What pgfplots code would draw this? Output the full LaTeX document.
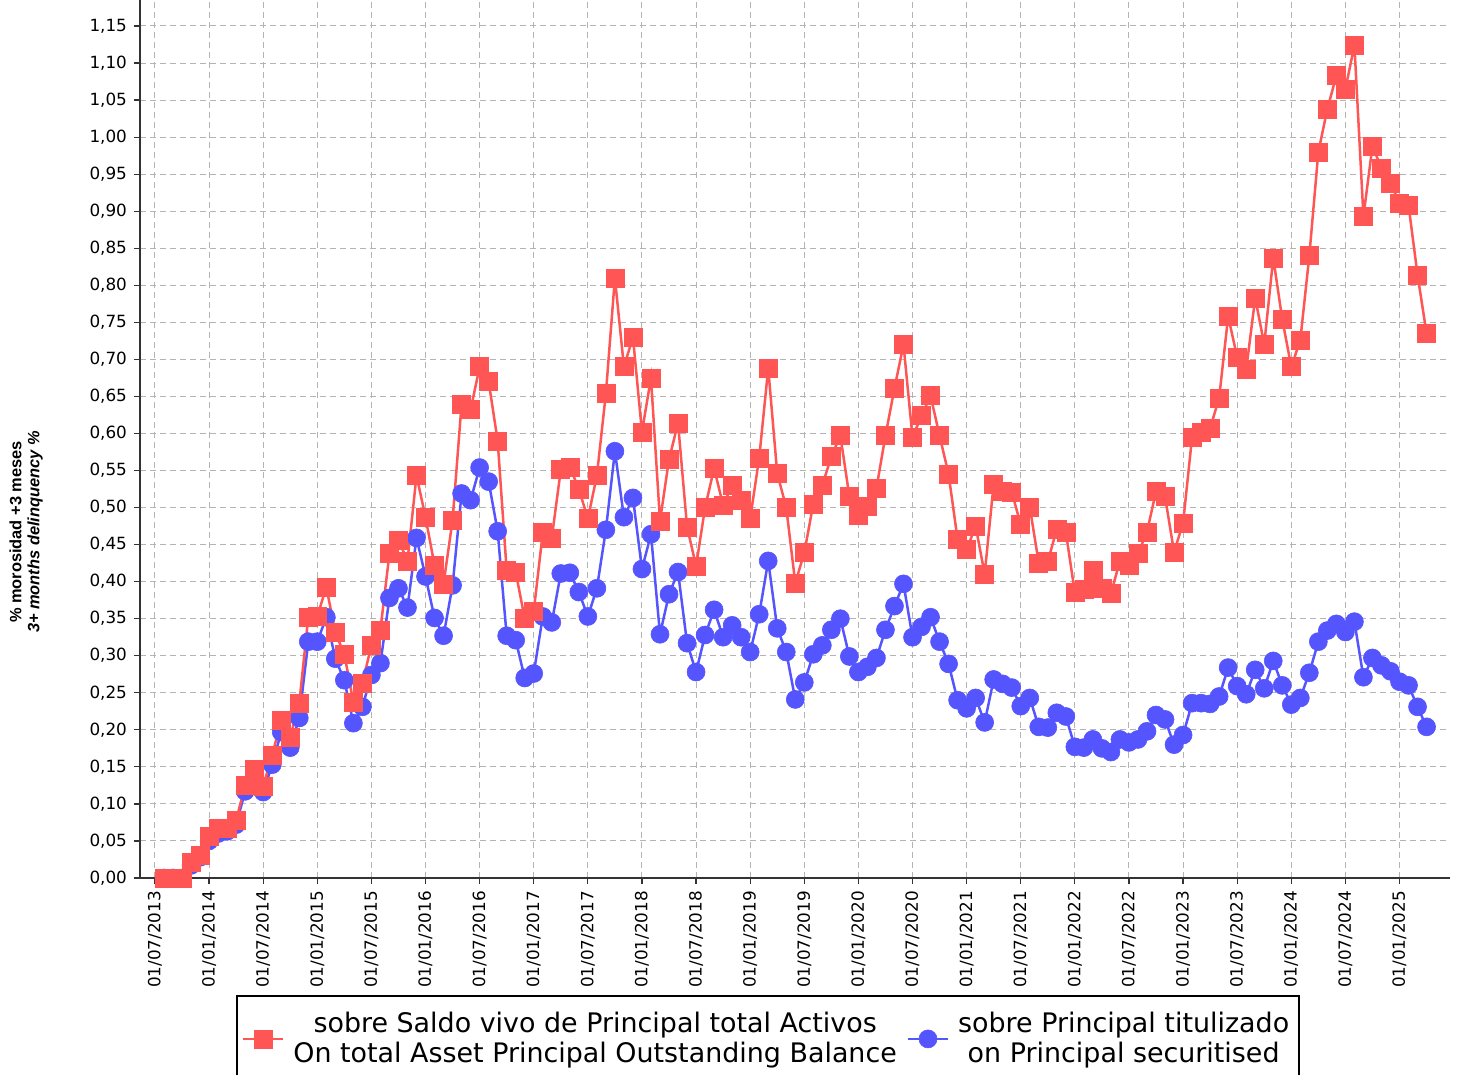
\documentclass[border=0pt]{standalone}
\usepackage{fontspec}
\setmainfont{DejaVu Sans}
\newfontfamily\arialfont{Liberation Sans}
\usepackage{pgfplots}
\usepackage{pgfplotstable}
\pgfplotsset{compat=1.18}
\definecolor{myred}{RGB}{255,85,85}
\definecolor{myblue}{RGB}{85,85,255}
\definecolor{gridgray}{RGB}{180,180,180}

\pgfplotstableread{
x r b
1 0 0
2 0 0
3 0 0
4 0.021 0.017
5 0.031 0.028
6 0.056 0.05
7 0.067 0.06
8 0.067 0.063
9 0.078 0.072
10 0.125 0.117
11 0.147 0.135
12 0.124 0.116
13 0.166 0.153
14 0.213 0.197
15 0.19 0.176
16 0.236 0.216
17 0.352 0.319
18 0.353 0.319
19 0.393 0.352
20 0.331 0.296
21 0.302 0.267
22 0.237 0.209
23 0.263 0.231
24 0.314 0.274
25 0.335 0.29
26 0.438 0.378
27 0.456 0.391
28 0.428 0.365
29 0.543 0.459
30 0.487 0.407
31 0.422 0.351
32 0.397 0.327
33 0.483 0.395
34 0.64 0.519
35 0.632 0.51
36 0.69 0.554
37 0.67 0.535
38 0.59 0.468
39 0.415 0.327
40 0.413 0.321
41 0.35 0.27
42 0.36 0.276
43 0.466 0.353
44 0.459 0.345
45 0.551 0.411
46 0.555 0.412
47 0.525 0.386
48 0.485 0.353
49 0.543 0.391
50 0.654 0.47
51 0.81 0.576
52 0.69 0.487
53 0.73 0.513
54 0.602 0.417
55 0.675 0.464
56 0.482 0.329
57 0.565 0.383
58 0.614 0.413
59 0.474 0.317
60 0.421 0.278
61 0.5 0.328
62 0.553 0.362
63 0.503 0.325
64 0.53 0.341
65 0.51 0.325
66 0.485 0.305
67 0.567 0.356
68 0.688 0.428
69 0.546 0.337
70 0.5 0.305
71 0.398 0.241
72 0.439 0.264
73 0.505 0.302
74 0.53 0.314
75 0.569 0.335
76 0.597 0.35
77 0.515 0.299
78 0.49 0.278
79 0.502 0.285
80 0.526 0.297
81 0.597 0.335
82 0.661 0.367
83 0.72 0.397
84 0.595 0.325
85 0.624 0.339
86 0.651 0.352
87 0.597 0.319
88 0.545 0.289
89 0.457 0.24
90 0.443 0.229
91 0.475 0.243
92 0.41 0.21
93 0.532 0.268
94 0.522 0.262
95 0.521 0.257
96 0.477 0.232
97 0.501 0.243
98 0.425 0.204
99 0.427 0.203
100 0.471 0.223
101 0.467 0.218
102 0.385 0.177
103 0.389 0.176
104 0.415 0.187
105 0.391 0.175
106 0.384 0.17
107 0.428 0.187
108 0.422 0.183
109 0.438 0.187
110 0.467 0.198
111 0.522 0.22
112 0.515 0.214
113 0.44 0.18
114 0.479 0.193
115 0.595 0.236
116 0.602 0.236
117 0.607 0.235
118 0.648 0.245
119 0.758 0.284
120 0.703 0.259
121 0.686 0.248
122 0.783 0.281
123 0.72 0.256
124 0.837 0.293
125 0.754 0.26
126 0.69 0.234
127 0.726 0.243
128 0.84 0.277
129 0.98 0.319
130 1.038 0.334
131 1.083 0.343
132 1.065 0.332
133 1.124 0.346
134 0.893 0.271
135 0.988 0.297
136 0.958 0.287
137 0.938 0.279
138 0.911 0.265
139 0.908 0.26
140 0.814 0.231
141 0.735 0.204
}\datatable

\begin{document}
\begin{tikzpicture}
\begin{axis}[
  scale only axis, width=655pt, height=439pt,
  xmin=-1.66, xmax=143.6, ymin=0, ymax=1.1851,
  axis x line*=bottom, axis y line*=left,
  axis line style={line width=0.75pt, black!80},
  tick align=outside, major tick length=3pt,
  tick style={line width=0.6pt, black!80},
  xtick={0,6,...,138},
  xticklabels={01/07/2013,01/01/2014,01/07/2014,01/01/2015,01/07/2015,01/01/2016,01/07/2016,01/01/2017,01/07/2017,01/01/2018,01/07/2018,01/01/2019,01/07/2019,01/01/2020,01/07/2020,01/01/2021,01/07/2021,01/01/2022,01/07/2022,01/01/2023,01/07/2023,01/01/2024,01/07/2024,01/01/2025},
  ytick={0,0.05,0.10,0.15,0.20,0.25,0.30,0.35,0.40,0.45,0.50,0.55,0.60,0.65,0.70,0.75,0.80,0.85,0.90,0.95,1.00,1.05,1.10,1.15},
  /pgf/number format/assume math mode=true,
  yticklabel style={/pgf/number format/.cd, fixed, fixed zerofill, precision=2, use comma},
  ticklabel style={font=\fontsize{8.4}{10}\selectfont},
  xticklabel style={rotate=90, anchor=east},
  grid=major,
  major grid style={gridgray, line width=0.5pt, dash pattern=on 3pt off 2pt},
  ylabel={\textbf{\% morosidad +3 meses}\\\textbf{\textit{3+ months delinquency \%}}},
  ylabel style={font=\arialfont\fontsize{8.2}{9}\selectfont, align=center, at={(axis description cs:-0.087,0.394)}, anchor=center},
  legend columns=2, reverse legend,
  legend style={at={(0.0733,0)}, anchor=north west, yshift=-58.5pt, draw=black, line width=1pt,
    font=\fontsize{13.45}{15.2}\selectfont, nodes={align=center, inner xsep=2.5pt},
    /tikz/every odd column/.append style={column sep=2pt},
    /tikz/every even column/.append style={column sep=2.5pt}, inner xsep=2.5pt, inner ysep=6pt},
  legend image code/.code={\draw[mark repeat=2,mark phase=2] plot coordinates {(0cm,0cm)(0.35cm,0cm)(0.7cm,0cm)};},
]
\coordinate (sw) at (rel axis cs:0,0);
\coordinate (ne) at (rel axis cs:1,1);
\addplot[myblue, line width=1.25pt, mark=*, mark size=4.5pt, mark options={solid, fill=myblue, draw=myblue, line width=0.3pt}] table[x=x, y=b] {\datatable};
\addlegendentry{sobre Principal titulizado\\on Principal securitised}
\addplot[myred, line width=1.25pt, mark=square*, mark size=4.5pt, mark options={solid, fill=myred, draw=myred, line width=0.3pt}] table[x=x, y=r] {\datatable};
\addlegendentry{sobre Saldo vivo de Principal total Activos\\On total Asset Principal Outstanding Balance}
\end{axis}
\pgfresetboundingbox
\path[use as bounding box] ([xshift=-70pt,yshift=-98.5pt]sw) rectangle ([xshift=5.5pt]ne);
\end{tikzpicture}
\end{document}
